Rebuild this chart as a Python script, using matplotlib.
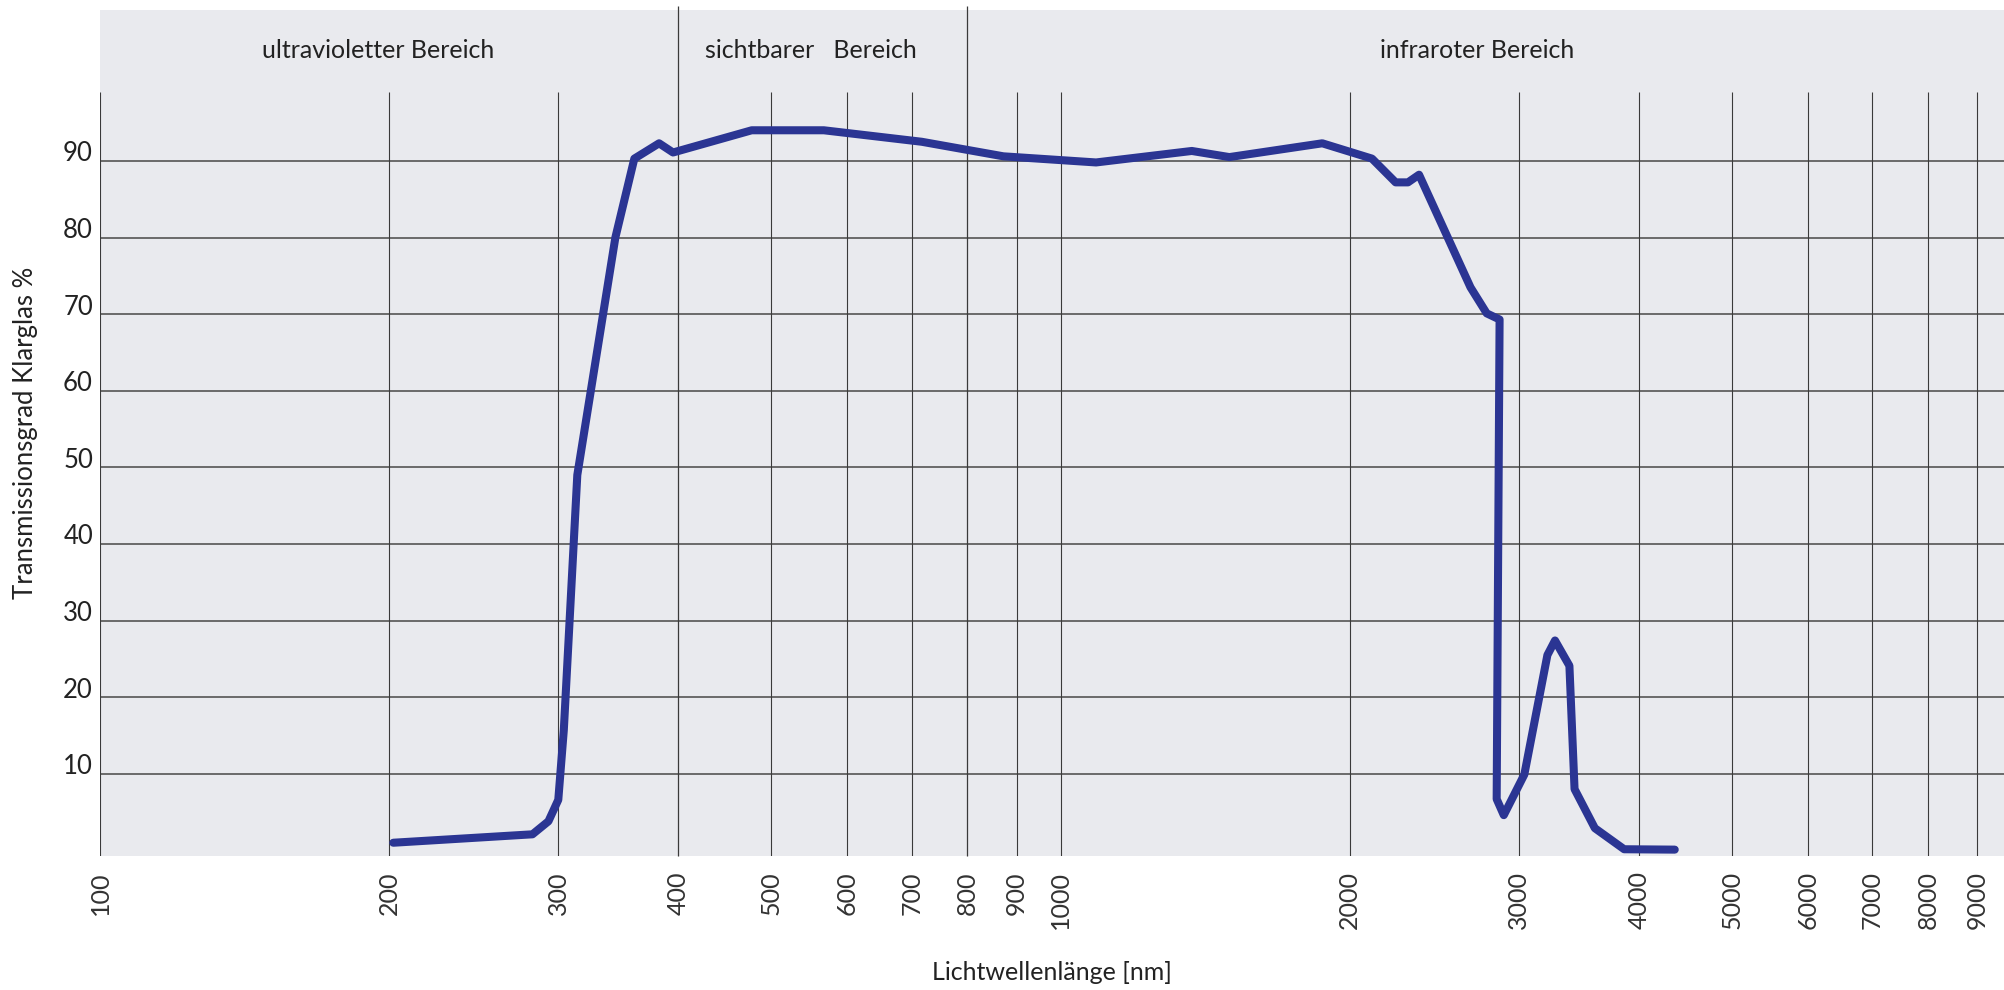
import matplotlib
matplotlib.use('Agg')
import matplotlib.pyplot as plt
from matplotlib.ticker import NullLocator, FixedLocator
from matplotlib.transforms import blended_transform_factory, ScaledTranslation

wellenlaenge = [202, 282, 293, 300, 304, 314, 344, 360, 382, 395, 477, 567,
                717, 872, 1089, 1370, 1499, 1873, 2110, 2233, 2300, 2362,
                2672, 2778, 2865, 2845, 2894, 3040, 3213, 3272, 3387, 3429,
                3600, 3862, 4360]
transmission = [1.0, 2.1, 3.8, 6.6, 15.7, 49, 80, 90.3, 92.3, 91.1, 94.0, 94.0,
                92.5, 90.6, 89.8, 91.3, 90.5, 92.3, 90.3, 87.2, 87.2, 88.2,
                73.5, 70.1, 69.3, 6.7, 4.6, 9.9, 25.5, 27.4, 24.1, 8.0,
                2.9, 0.15, 0.1]

x_ticks = [100, 200, 300, 400, 500, 600, 700, 800, 900, 1000,
           2000, 3000, 4000, 5000, 6000, 7000, 8000, 9000]
y_ticks = [10, 20, 30, 40, 50, 60, 70, 80, 90]
grenzen = [400, 800]
bereiche = ['ultravioletter Bereich', 'sichtbarer   Bereich', 'infraroter Bereich']
bereich_x = [195, 550, 2716]

SCHRIFT = ['Lato', 'DejaVu Sans']
TEXTFARBE = '#222222'

fig = plt.figure(figsize=(20.04, 9.9), dpi=100)
ax = fig.add_axes([0.0499, 0.1356, 0.9501, 0.8543])
ax.set_facecolor('#e9eaee')
for s in ax.spines.values():
    s.set_visible(False)

ax.set_xscale('log')
ax.set_xlim(100, 9600)
ax.set_ylim(-0.7, 109.7)

# Gitter
for yv in y_ticks:
    ax.axhline(yv, color='#606060', lw=1.3, zorder=1)
ax.vlines([t for t in x_ticks if t not in grenzen], -0.7, 99,
          color='#3a3a3a', lw=0.8, zorder=1)
ax.vlines(grenzen, -0.7, 110.2, color='#3a3a3a', lw=0.9, zorder=1,
          clip_on=False)

ax.plot(wellenlaenge, transmission, color='#2b3593', lw=5.8,
        solid_capstyle='round', solid_joinstyle='round', zorder=3)

for name, xb in zip(bereiche, bereich_x):
    ax.text(xb, 104.4, name, ha='center', va='center', fontsize=18,
            family=SCHRIFT, color=TEXTFARBE)

ax.xaxis.set_major_locator(FixedLocator(x_ticks))
ax.xaxis.set_minor_locator(NullLocator())
ax.set_xticklabels([str(t) for t in x_ticks], rotation=90,
                   fontsize=18, color='#333333', family=SCHRIFT)
ax.tick_params(axis='x', length=0, pad=11)

# y-Beschriftung knapp oberhalb der Linien
ax.set_yticks(y_ticks)
ax.set_yticklabels([])
ax.tick_params(axis='y', length=0)
trans = blended_transform_factory(ax.transAxes, ax.transData) + \
    ScaledTranslation(-0.07, 0.07, fig.dpi_scale_trans)
for yv in y_ticks:
    ax.text(0, yv, str(yv), transform=trans, ha='right', va='center',
            fontsize=18.5, family=SCHRIFT, color=TEXTFARBE)

ax.set_xlabel('Lichtwellenlänge [nm]', fontsize=18, family=SCHRIFT,
              color=TEXTFARBE, va='center')
ax.xaxis.set_label_coords(0.5, -0.138)
ax.set_ylabel('Transmissionsgrad Klarglas %', fontsize=18.5, family=SCHRIFT,
              color=TEXTFARBE, va='center')
ax.yaxis.set_label_coords(-0.039, 0.5)

fig.savefig('out.png', dpi=100)
